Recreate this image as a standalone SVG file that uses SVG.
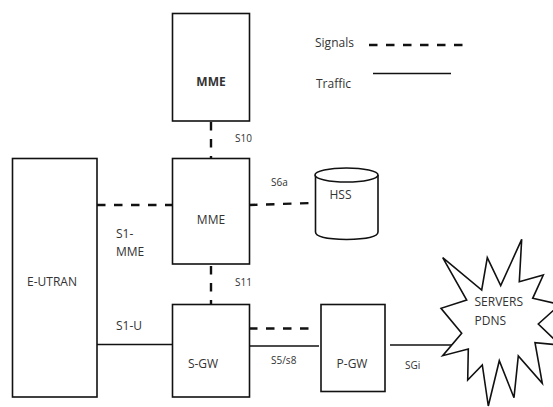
<svg xmlns="http://www.w3.org/2000/svg" width="553" height="407" viewBox="0 0 553 407">
<style>
.b{fill:#fff;stroke:#111;stroke-width:1.6}
.t{font-family:"Open Sans","Liberation Sans",sans-serif;font-size:12px;fill:#333}
.s{font-size:10px}
.d{fill:none;stroke:#111;stroke-width:2.4;stroke-dasharray:8.5 8.5}
.l{fill:none;stroke:#111;stroke-width:1.6}
</style>
<rect width="553" height="407" fill="#fff"/>
<g id="connectors">
<path class="d" d="M211 122V158"/>
<path class="d" d="M97 205H172"/>
<path class="d" d="M249 205L312 203"/>
<path class="d" d="M211 266V304"/>
<path class="d" d="M249 328.500H312"/>
<path class="l" d="M97 344.500H172"/>
<path class="l" d="M249 346H319"/>
<path class="l" d="M390 345H452"/>
<path class="d" d="M369 45H463"/>
<path class="l" d="M373 73.500H451"/>
</g>
<g id="mme-top"><rect class="b" x="172.500" y="13.500" width="77" height="107.500"/><text class="t" x="211" y="85.500" text-anchor="middle" font-weight="700" fill="#222">MME</text></g>
<g id="mme"><rect class="b" x="172.500" y="158.500" width="77" height="105.500"/><text class="t" x="211" y="224" text-anchor="middle">MME</text></g>
<g id="e-utran"><rect class="b" x="12.500" y="158.500" width="84.500" height="238.500"/><text class="t" x="52" y="286" text-anchor="middle">E-UTRAN</text></g>
<g id="s-gw"><rect class="b" x="172.500" y="304.500" width="77" height="92.500"/><text class="t" x="203" y="368" text-anchor="middle">S-GW</text></g>
<g id="p-gw"><rect class="b" x="321" y="304.500" width="64" height="87"/><text class="t" x="352" y="368" text-anchor="middle">P-GW</text></g>
<g id="hss">
<path class="b" d="M315.500 175V232Q315.500 239 346.500 239.500Q378 239 378 232V175"/>
<ellipse class="b" cx="346.500" cy="175" rx="31.500" ry="7"/>
<text class="t" x="340.500" y="199" text-anchor="middle">HSS</text>
</g>
<g id="servers-pdns">
<polygon class="b" points="521.700,239.300 519.300,281.700 543.300,275 532.700,298.300 560,304.500 538.300,324 560,345 535,342.700 542.300,383.300 518.300,356 514,397.700 499.300,360.700 488.300,406 482.300,365 467.700,380 468.300,349 442.700,355.700 461.700,333.300 441,308.300 466.700,300 442.700,257.700 481.700,290 487.300,257.700 500.700,285.700"/>
<text class="t" x="474.500" y="306">SERVERS</text>
<text class="t" x="474.500" y="325">PDNS</text>
</g>
<g id="labels">
<text class="t" x="315" y="46.500">Signals</text>
<text class="t" x="316" y="88">Traffic</text>
<text class="t s" x="235" y="142">S10</text>
<text class="t s" x="271" y="186">S6a</text>
<text class="t" x="116" y="238">S1-</text>
<text class="t" x="116" y="256">MME</text>
<text class="t s" x="235" y="286">S11</text>
<text class="t" x="116" y="330">S1-U</text>
<text class="t s" x="271" y="364">S5/s8</text>
<text class="t s" x="405" y="369">SGi</text>
</g>
</svg>
